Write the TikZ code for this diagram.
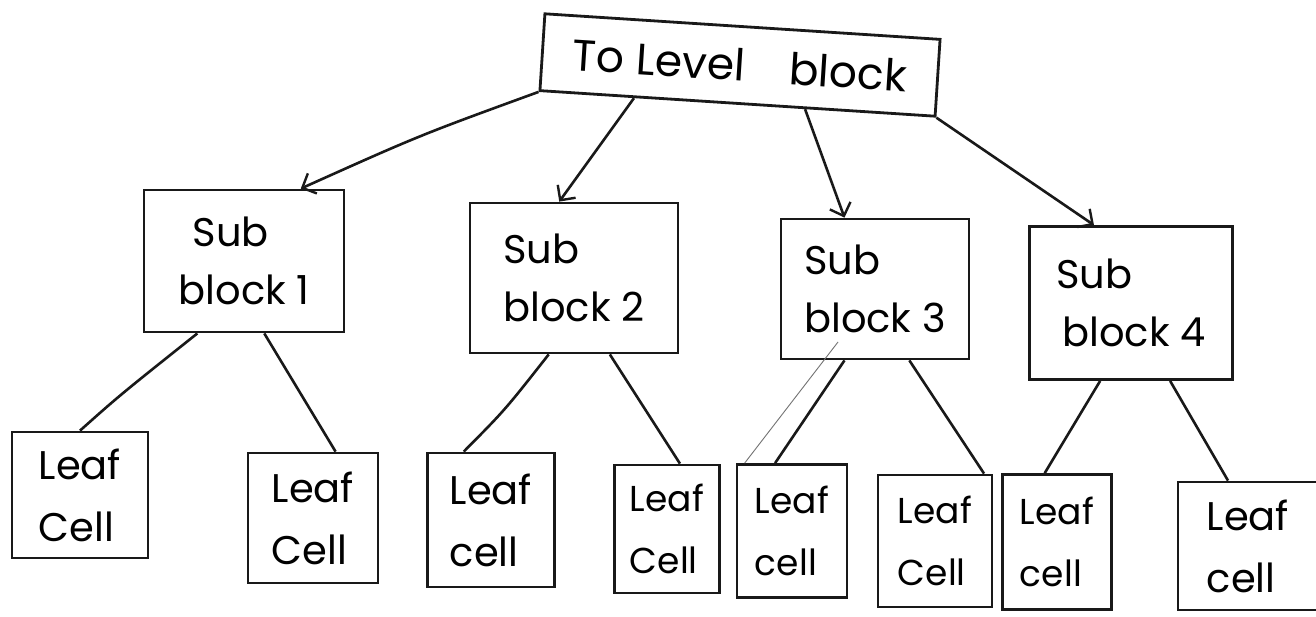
\documentclass[tikz,border=0pt]{standalone}
\usepackage{fontspec}
\setmainfont{Poppins}
\usetikzlibrary{arrows.meta,calc}
\tikzset{
  box/.style={draw=black!90, line width=2.8pt, inner sep=0pt, align=left},
  subbox/.style={box, font=\fontsize{40}{58}\selectfont},
  leafbox/.style={box, font=\fontsize{40}{62}\selectfont},
  narrowleaf/.style={box, font=\fontsize{36}{62}\selectfont},
  conn/.style={draw=black!90, line width=2.6pt},
  arr/.style={conn, -{Straight Barb[length=11pt,width=22pt,line width=2.4pt]}},
  stray/.style={draw=black!55, line width=0.9pt}
}
\begin{document}
\begin{tikzpicture}[x=1pt,y=-1pt]
\useasboundingbox[fill=white] (0,0) rectangle (1316,616);
% top
\node[box, rotate=-3.7, minimum width=396pt, minimum height=77pt, align=center,
      font=\fontsize{44}{50}\selectfont] (top) at (740,65) {To Level\quad block};
% sub blocks
\node[subbox, minimum width=200pt, minimum height=142pt] (sb1) at (244,261) {\hspace*{0.35em}Sub\\block 1};
\node[subbox, minimum width=208pt, minimum height=150pt] (sb2) at (574,278) {Sub\\block 2};
\node[subbox, minimum width=188pt, minimum height=140pt] (sb3) at (875,289) {Sub\\block 3};
\node[subbox, minimum width=203pt, minimum height=153pt] (sb4) at (1131,303) {Sub\\\hspace*{0.15em}block 4};
% leaves
\node[leafbox, minimum width=136pt, minimum height=126pt] (l1) at (80,495) {Leaf\\Cell};
\node[leafbox, minimum width=130pt, minimum height=130pt] (l2) at (313,518) {Leaf\\Cell};
\node[leafbox, minimum width=127pt, minimum height=134pt] (l3) at (491,520) {Leaf\\cell};
\node[narrowleaf, minimum width=105pt, minimum height=128pt] (l4) at (667,529) {Leaf\\Cell};
\node[narrowleaf, minimum width=110pt, minimum height=133pt] (l5) at (792,531) {Leaf\\cell};
\node[narrowleaf, minimum width=114pt, minimum height=132pt] (l6) at (935,541) {Leaf\\Cell};
\node[narrowleaf, minimum width=109pt, minimum height=135pt] (l7) at (1057,542) {Leaf\\cell};
\node[leafbox, minimum width=140pt, minimum height=128pt] (l8) at (1248,546) {Leaf\\cell};
% top arrows
\draw[arr] (top.south west) .. controls ($(top.south west)!0.5!($(sb1.north west)!0.78!(sb1.north east)$)+(0,-5)$) .. ($(sb1.north west)!0.78!(sb1.north east)$);
\draw[arr] ($(top.south west)!0.24!(top.south east)$) -- ($(sb2.north west)!0.43!(sb2.north east)$);
\draw[arr] ($(top.south west)!0.67!(top.south east)$) -- ($(sb3.north west)!0.34!(sb3.north east)$);
\draw[arr] (top.south east) -- ($(sb4.north west)!0.32!(sb4.north east)$);
% leaf connectors
\draw[conn] ($(sb1.south west)!0.27!(sb1.south east)$) .. controls (120,395) .. (l1.north);
\draw[conn] ($(sb1.south west)!0.60!(sb1.south east)$) -- ($(l2.north west)!0.67!(l2.north east)$);
\draw[conn] ($(sb2.south west)!0.38!(sb2.south east)$) .. controls (505,410) .. ($(l3.north west)!0.29!(l3.north east)$);
\draw[conn] ($(sb2.south west)!0.67!(sb2.south east)$) -- ($(l4.north west)!0.62!(l4.north east)$);
\draw[conn] ($(sb3.south west)!0.34!(sb3.south east)$) -- ($(l5.north west)!0.35!(l5.north east)$);
\coordinate (s3) at (838,342);
\draw[stray] (s3) -- ($(l5.north west)!0.08!(l5.north east)$);
\draw[conn] ($(sb3.south west)!0.68!(sb3.south east)$) -- ($(l6.north west)!0.92!(l6.north east)$);
\draw[conn] ($(sb4.south west)!0.35!(sb4.south east)$) -- ($(l7.north west)!0.39!(l7.north east)$);
\draw[conn] ($(sb4.south west)!0.69!(sb4.south east)$) -- ($(l8.north west)!0.36!(l8.north east)$);
\end{tikzpicture}
\end{document}
